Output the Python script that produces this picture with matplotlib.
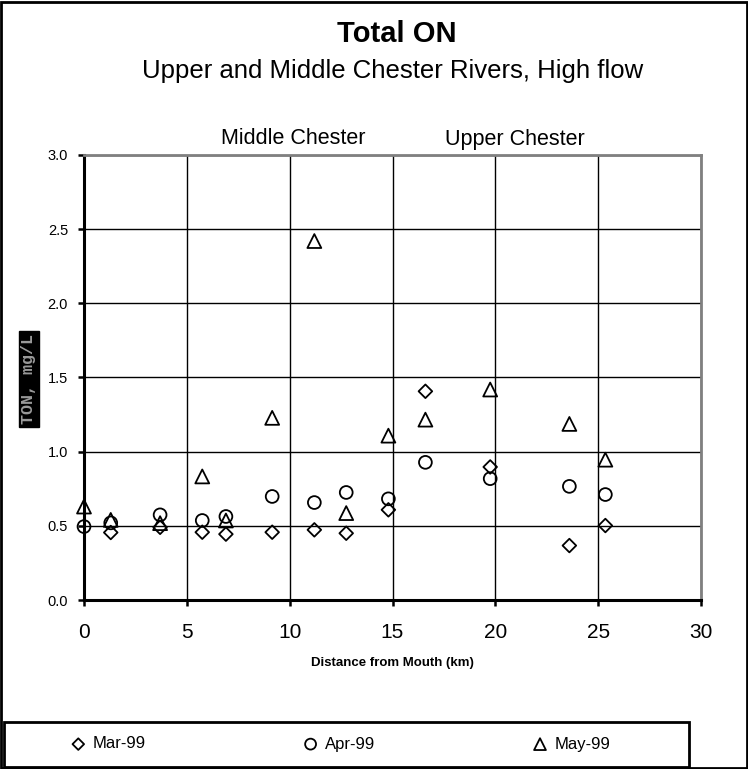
import numpy as np
import matplotlib
matplotlib.use("Agg")
import matplotlib.pyplot as plt
from matplotlib.patches import Rectangle

plt.rcParams['font.family'] = ['Liberation Sans', 'DejaVu Sans']

# ── data ──────────────────────────────────────────────────────────────────────
dist_km = [0, 1.3, 3.7, 5.75, 6.9, 9.15, 11.2, 12.75, 14.8, 16.6, 19.75, 23.6, 25.35]

# Mar-99 has no value at the mouth
mar_x = dist_km[1:]
mar_99 = [0.455, 0.49, 0.457, 0.444, 0.457, 0.473, 0.45, 0.608, 1.407, 0.897, 0.367, 0.502]
apr_99 = [0.495, 0.52, 0.574, 0.536, 0.563, 0.698, 0.657, 0.725, 0.682, 0.928, 0.818, 0.766, 0.711]
may_99 = [0.63, 0.54, 0.518, 0.833, 0.536, 1.228, 2.42, 0.586, 1.108, 1.216, 1.419, 1.187, 0.946]

x_ticks = [0, 5, 10, 15, 20, 25, 30]
y_ticks = [0.0, 0.5, 1.0, 1.5, 2.0, 2.5, 3.0]

# ── figure ────────────────────────────────────────────────────────────────────
W, H = 748, 769
fig = plt.figure(figsize=(W / 100, H / 100), dpi=100)
fig.patch.set_facecolor('white')

# outer frame + legend frame
fig.patches.append(Rectangle((0.001, 0.001), 0.997, 0.997, transform=fig.transFigure,
                             fill=False, edgecolor='black', linewidth=2))
fig.patches.append(Rectangle((4 / W, 2 / H), 685 / W, 45 / H, transform=fig.transFigure,
                             fill=False, edgecolor='black', linewidth=2))

ax = fig.add_axes([84 / W, 1 - 600 / H, (701 - 84) / W, (600 - 155) / H])

mk = dict(facecolor='none', edgecolor='black', linewidths=1.3, zorder=3, clip_on=False)
ax.scatter(mar_x, mar_99, marker='D', s=48, label='Mar-99', **mk)
ax.scatter(dist_km, apr_99, marker='o', s=85, label='Apr-99', **mk)
ax.scatter(dist_km, may_99, marker='^', s=100, label='May-99', **mk)

ax.set_xlim(0, 30)
ax.set_ylim(0, 3)
ax.set_xticks(x_ticks)
ax.set_yticks(y_ticks)
ax.set_xticklabels([str(t) for t in x_ticks], fontsize=15)
ax.set_yticklabels([f"{t:.1f}" for t in y_ticks], fontsize=10.5)
ax.tick_params(axis='both', direction='out', length=4.5, width=1.8, color='black')
ax.tick_params(axis='x', pad=12)
ax.tick_params(axis='y', pad=7)
ax.grid(True, color='black', linewidth=1.0)
ax.set_axisbelow(True)

for side in ['left', 'bottom']:
    ax.spines[side].set_linewidth(2.2)
    ax.spines[side].set_color('black')
for side in ['top', 'right']:
    ax.spines[side].set_linewidth(2.0)
    ax.spines[side].set_color('#808080')

# ── text ──────────────────────────────────────────────────────────────────────
fig.text(397 / W, 1 - 34 / H, "Total ON", ha='center', va='center',
         fontsize=21, fontweight='bold')
fig.text(393 / W, 1 - 71 / H, "Upper and Middle Chester Rivers, High flow",
         ha='center', va='center', fontsize=18.5)
fig.text(293 / W, 1 - 139 / H, "Middle Chester", ha='center', va='center', fontsize=15.5)
fig.text(515 / W, 1 - 139 / H, "Upper Chester", ha='center', va='center', fontsize=15.5)

fig.text(392 / W, 1 - 663 / H, "Distance from Mouth (km)", ha='center', va='center',
         fontsize=9.5, fontweight='bold')

fig.text(29 / W, 1 - 379 / H, "TON, mg/L", ha='center', va='center', rotation=90,
         fontsize=12, color='#9a9a9a', family='Liberation Mono', fontweight='bold',
         bbox=dict(facecolor='black', edgecolor='black', pad=2))

# ── legend ────────────────────────────────────────────────────────────────────
fig.legend(loc='center', ncol=3, bbox_to_anchor=(340 / W, 1 - 744 / H),
           fontsize=12, frameon=False, handlelength=1.0, handletextpad=0.35,
           columnspacing=9.4, markerscale=0.85)

fig.savefig('out.png', dpi=100)
